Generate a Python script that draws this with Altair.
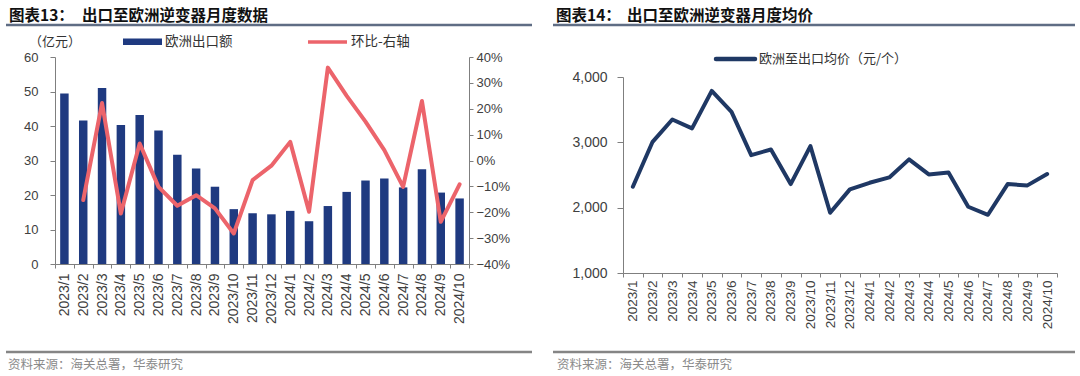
import altair as alt
import pandas as pd

# ---------------- data ----------------
months = ["2023/1", "2023/2", "2023/3", "2023/4", "2023/5", "2023/6", "2023/7",
          "2023/8", "2023/9", "2023/10", "2023/11", "2023/12", "2024/1", "2024/2",
          "2024/3", "2024/4", "2024/5", "2024/6", "2024/7", "2024/8", "2024/9",
          "2024/10"]
# 欧洲出口额 (亿元)
export_value = [49.4, 41.6, 51.0, 40.3, 43.2, 38.7, 31.7, 27.7, 22.4, 15.9, 14.7,
                14.4, 15.4, 12.4, 16.8, 20.9, 24.2, 24.8, 22.2, 27.5, 20.7, 19.0]
# 环比 (%), first month has no value
mom_pct = [None, -15.3, 22.2, -20.5, 6.6, -10.2, -17.5, -13.4, -18.5, -28.2, -7.6,
           -2.0, 7.2, -19.8, 35.9, 25.0, 15.0, 4.0, -10.2, 23.0, -23.7, -9.2]
# 欧洲至出口均价 (元/个)
avg_price = [2320, 3008, 3350, 3213, 3787, 3466, 2804, 2891, 2361, 2942, 1922,
             2280, 2381, 2463, 2739, 2509, 2540, 2014, 1891, 2361, 2341, 2514]

left_ticks = [0, 10, 20, 30, 40, 50, 60]
right_ticks = [-0.4, -0.3, -0.2, -0.1, 0, 0.1, 0.2, 0.3, 0.4]
price_ticks = [1000, 2000, 3000, 4000]

left_df = pd.DataFrame({
    "month": months,
    "value": export_value,
    "mom": [None if v is None else v / 100 for v in mom_pct],
})
right_df = pd.DataFrame({"month": months, "price": avg_price})

# ---------------- styling ----------------
W, H = 1080, 376
LAT = "Liberation Sans"
CJK = "Noto Sans CJK SC"
BAR = "#1f3a80"
RED = "#ec646b"
NAVY = "#1f3864"
AXC = "#7f7f7f"


def ax(**kw):
    base = dict(domainColor=AXC, tickColor=AXC, labelColor="#404040",
                labelFont=LAT, grid=False, domainWidth=1, tickWidth=1)
    base.update(kw)
    return alt.Axis(**base)


# ---------------- left panel ----------------
x_left_scale = alt.Scale(type="band", domain=months, range=[55, 469],
                         paddingInner=0, paddingOuter=0)
x_left_axis = ax(orient="bottom", offset=264 - H, tickBand="extent",
                 labelAngle=-90, labelPadding=5, tickSize=4, labelFontSize=14,
                 labelOverlap=False)

bars = alt.Chart(left_df).mark_bar(
    color=BAR, width=alt.RelativeBandSize(0.45)
).encode(
    x=alt.X("month:N", sort=months, scale=x_left_scale, axis=x_left_axis, title=None),
    y=alt.Y("value:Q",
            scale=alt.Scale(domain=[0, 60], range=[264, 57], nice=False),
            axis=ax(orient="left", offset=-55, values=left_ticks, tickSize=5,
                    labelPadding=12, labelFontSize=13),
            title=None),
)

line_l = alt.Chart(left_df).transform_filter("isValid(datum.mom)").mark_line(
    color=RED, strokeWidth=4, strokeJoin="round", strokeCap="round"
).encode(
    x=alt.X("month:N", sort=months, scale=x_left_scale, axis=x_left_axis,
            bandPosition=0.5, title=None),
    y=alt.Y("mom:Q",
            scale=alt.Scale(domain=[-0.4, 0.4], range=[264, 57], nice=False, zero=False),
            axis=ax(orient="right", offset=-(W - 469), values=right_ticks,
                    format=".0%", tickSize=4, labelPadding=3, labelFontSize=13),
            title=None),
)

left = alt.layer(bars, line_l).resolve_scale(y="independent")

# ---------------- right panel ----------------
line_r = alt.Chart(right_df).mark_line(
    color=NAVY, strokeWidth=4, strokeJoin="round", strokeCap="round"
).encode(
    x=alt.X("month:N", sort=months,
            scale=alt.Scale(type="band", domain=months, range=[623, 1057],
                            paddingInner=0, paddingOuter=0),
            axis=ax(orient="bottom", offset=273 - H, tickBand="extent",
                    labelAngle=-90, labelPadding=3, tickSize=4,
                    labelFontSize=13.5, labelOverlap=False),
            bandPosition=0.5, title=None),
    y=alt.Y("price:Q",
            scale=alt.Scale(domain=[1000, 4000], range=[273, 77], nice=False, zero=False),
            axis=ax(orient="left", offset=-623, values=price_ticks, format=",.0f",
                    tickSize=6, labelPadding=10, labelFontSize=14),
            title=None),
)

# ---------------- decorations ----------------
one = alt.Data(values=[{}])


def text(s, x, y, size, color="#333333", weight="normal", font=CJK):
    return alt.Chart(one).mark_text(
        text=s, align="left", baseline="middle", font=font, fontSize=size,
        fontWeight=weight, color=color
    ).encode(x=alt.value(x), y=alt.value(y))


def hline(x1, x2, y, color, width, cap="butt"):
    return alt.Chart(one).mark_rule(
        color=color, strokeWidth=width, strokeCap=cap
    ).encode(x=alt.value(x1), x2=alt.value(x2), y=alt.value(y))


decor = [
    # titles
    text("图表13：", 9, 16, 15.5, "#111111", "bold"),
    text("出口至欧洲逆变器月度数据", 82, 16, 15.5, "#111111", "bold"),
    text("图表14：", 556, 16, 15.5, "#111111", "bold"),
    text("出口至欧洲逆变器月度均价", 627, 16, 15.5, "#111111", "bold"),
    hline(6, 532, 25, "#5f6d84", 2.5),
    hline(553, 1075, 25, "#5f6d84", 2.5),
    # footers
    hline(6, 532, 352, "#858585", 2.5),
    hline(553, 1075, 352, "#858585", 2.5),
    text("资料来源：海关总署，华泰研究", 8, 365, 12.5, "#8a8a8a"),
    text("资料来源：海关总署，华泰研究", 557, 365, 12.5, "#8a8a8a"),
    # left legend
    text("（亿元）", 29, 42, 13, "#333333"),
    alt.Chart(one).mark_rect(color=BAR).encode(
        x=alt.value(123), x2=alt.value(162), y=alt.value(38.5), y2=alt.value(45)),
    text("欧洲出口额", 165, 42, 13.5, "#333333"),
    hline(308, 347, 42, RED, 3.5),
    text("环比-右轴", 351, 42, 13.5, "#333333"),
    # right legend
    hline(716, 755, 59, NAVY, 4.5, "round"),
    text("欧洲至出口均价（元/个）", 759, 59, 13, "#333333"),
]

chart = alt.layer(left, line_r, *decor).resolve_scale(
    x="independent", y="independent"
).properties(
    width=W, height=H, padding=0,
    autosize=alt.AutoSizeParams(type="none"),
    background="white",
).configure_view(stroke=None)

chart.save("out.html", embed_options={"renderer": "svg", "actions": False})
